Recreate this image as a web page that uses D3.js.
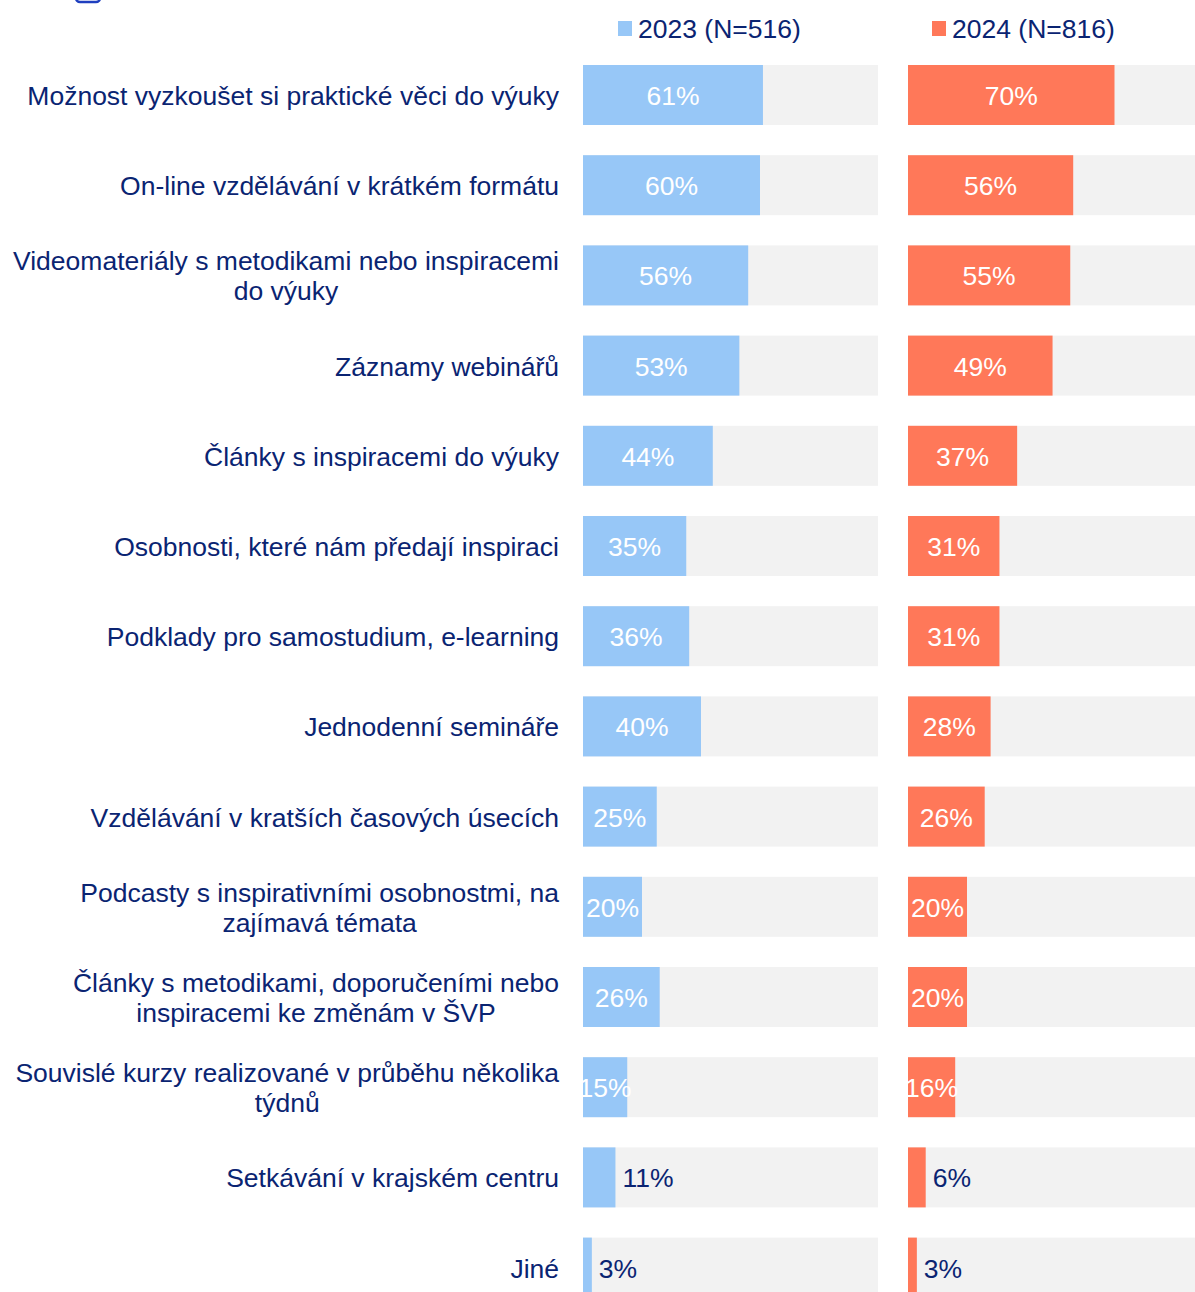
<!DOCTYPE html>
<html>
<head>
<meta charset="utf-8">
<script src="https://cdn.jsdelivr.net/npm/d3@7"></script>
<style>
  html, body { margin: 0; padding: 0; background: #fff; overflow: hidden; }
  svg { display: block; font-family: "Liberation Sans", Arial, sans-serif; }
</style>
</head>
<body>
<svg id="chart" width="1195" height="1292"></svg>
<script>
// Categories (lines of each label)
const categories = [
  ["Možnost vyzkoušet si praktické věci do výuky"],
  ["On-line vzdělávání v krátkém formátu"],
  ["Videomateriály s metodikami nebo inspiracemi", "do výuky"],
  ["Záznamy webinářů"],
  ["Články s inspiracemi do výuky"],
  ["Osobnosti, které nám předají inspiraci"],
  ["Podklady pro samostudium, e-learning"],
  ["Jednodenní semináře"],
  ["Vzdělávání v kratších časových úsecích"],
  ["Podcasty s inspirativními osobnostmi, na", "zajímavá témata"],
  ["Články s metodikami, doporučeními nebo", "inspiracemi ke změnám v ŠVP"],
  ["Souvislé kurzy realizované v průběhu několika", "týdnů"],
  ["Setkávání v krajském centru"],
  ["Jiné"]
];
const values2023 = [61, 60, 56, 53, 44, 35, 36, 40, 25, 20, 26, 15, 11, 3];
const values2024 = [70, 56, 55, 49, 37, 31, 31, 28, 26, 20, 20, 16, 6, 3];
const seriesNames = ["2023 (N=516)", "2024 (N=816)"];
const seriesColors = ["#97c7f7", "#ff7859"];

const navy = "#0a2472";
const trackColor = "#f2f2f2";
const fontSize = 26.5;

const svg = d3.select("#chart");
const idx = d3.range(categories.length);

// Vertical band scale for rows
const step = 90.2;
const y = d3.scaleBand()
  .domain(idx)
  .range([65 - step * 0.1674, 65 - step * 0.1674 + step * idx.length])
  .paddingInner(0.3348)
  .paddingOuter(0.1674);

// Horizontal scale: 0–100 %
const x = d3.scaleLinear().domain([0, 100]).range([0, 295]);

// Partially visible heading icon at the top edge
svg.append("rect")
  .attr("x", 76).attr("y", -20).attr("width", 24).attr("height", 22)
  .attr("rx", 4).attr("fill", "none").attr("stroke", "#1f3fbf").attr("stroke-width", 2.5);

// Category labels: right-aligned block, each line centred within it
const labelRight = 559;
const labelG = svg.append("g");
idx.forEach(i => {
  const lines = categories[i];
  const cy = y(i) + y.bandwidth() / 2;
  const lh = 30;
  const texts = lines.map((ln, k) => labelG.append("text")
    .attr("y", cy + (k - (lines.length - 1) / 2) * lh + 10)
    .attr("font-size", fontSize)
    .attr("fill", navy)
    .text(ln));
  const widths = texts.map(t => t.node().getComputedTextLength());
  const maxW = d3.max(widths);
  const centre = labelRight - maxW / 2;
  texts.forEach(t => t.attr("x", centre).attr("text-anchor", "middle"));
});

// Panels
const panels = [
  { x0: 583, values: values2023, color: seriesColors[0], name: seriesNames[0], legendX: 618 },
  { x0: 908, values: values2024, color: seriesColors[1], name: seriesNames[1], legendX: 932 }
];

panels.forEach(p => {
  const g = svg.append("g").attr("transform", `translate(${p.x0},0)`);

  g.selectAll("rect.track").data(idx).join("rect")
    .attr("class", "track")
    .attr("x", x(0)).attr("y", d => y(d))
    .attr("width", x(100) - x(0)).attr("height", y.bandwidth())
    .attr("fill", trackColor);

  g.selectAll("rect.bar").data(idx).join("rect")
    .attr("class", "bar")
    .attr("x", x(0)).attr("y", d => y(d))
    .attr("width", d => x(p.values[d]) - x(0)).attr("height", y.bandwidth())
    .attr("fill", p.color);

  g.selectAll("text.val").data(idx).join("text")
    .attr("class", "val")
    .attr("font-size", fontSize)
    .attr("y", d => y(d) + y.bandwidth() / 2 + 10)
    .attr("x", d => p.values[d] >= 12 ? x(p.values[d]) / 2 : x(p.values[d]) + 7)
    .attr("text-anchor", d => p.values[d] >= 12 ? "middle" : "start")
    .attr("fill", d => p.values[d] >= 12 ? "#ffffff" : navy)
    .text(d => p.values[d] + "%");

  // Legend
  svg.append("rect")
    .attr("x", p.legendX).attr("y", 21).attr("width", 14).attr("height", 15)
    .attr("fill", p.color);
  svg.append("text")
    .attr("x", p.legendX + 20).attr("y", 38)
    .attr("font-size", fontSize).attr("fill", navy)
    .text(p.name);
});
</script>
</body>
</html>
